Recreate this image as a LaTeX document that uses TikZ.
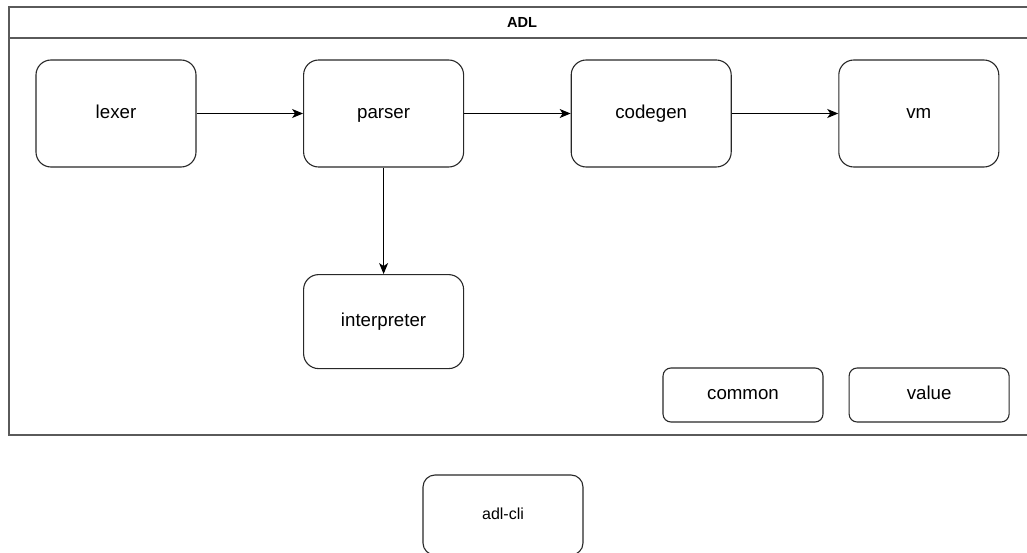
\documentclass[tikz,border=0pt]{standalone}
\usepackage{fontspec}
\setmainfont{Liberation Sans}
\usetikzlibrary{positioning,arrows.meta}
\definecolor{FrameGray}{RGB}{90,90,90}
\definecolor{BoxLine}{RGB}{40,40,40}
\tikzset{
  flow/.style={-{Stealth[length=11pt,width=9pt,inset=3pt]},line width=1.1pt,draw=black},
  module/.style={draw=BoxLine,line width=1.1pt,rounded corners=15pt,
    minimum width=160pt,minimum height=107pt,align=center,
    text height=13.8pt,text depth=4pt,font=\fontsize{18.7}{22}\selectfont},
  smallmodule/.style={draw=BoxLine,line width=1.1pt,rounded corners=8pt,
    minimum width=160pt,minimum height=54pt,align=center,
    text height=13.8pt,text depth=4pt,font=\fontsize{18.7}{22}\selectfont},
  container/.style={draw=FrameGray,line width=1.4pt}
}

\begin{document}
\begin{tikzpicture}[x=1pt,y=-1pt,node distance=106.5pt]
  \useasboundingbox (0,0) rectangle (1027,553);
  \clip (0,0) rectangle (1027,553);
  % outer package frame
  \draw[container] (9,7) rectangle (1035,435);
  \draw[container] (9,38) -- (1035,38);
  \node[font=\fontsize{14.6}{17}\selectfont\bfseries] (title) at (522,22.5) {ADL};
  % pipeline
  \node[module] (lexer) at (116,113.5) {lexer};
  \node[module,right=of lexer] (parser) {parser};
  \node[module,right=of parser] (codegen) {codegen};
  \node[module,right=of codegen] (vm) {vm};
  \node[module,below=of parser,minimum height=94pt] (interp) {interpreter};
  \node[smallmodule] (common) at (743,395) {common};
  \node[smallmodule,right=25pt of common] (value) {value};
  % outside the package
  \node[module,minimum height=80pt,rounded corners=12pt,text height=12pt,text depth=3.6pt,
    font=\fontsize{16}{19}\selectfont] (cli) at (503,515) {adl-cli};
  \draw[flow] (lexer) -- (parser);
  \draw[flow] (parser) -- (codegen);
  \draw[flow] (codegen) -- (vm);
  \draw[flow] (parser) -- (interp);
\end{tikzpicture}
\end{document}
